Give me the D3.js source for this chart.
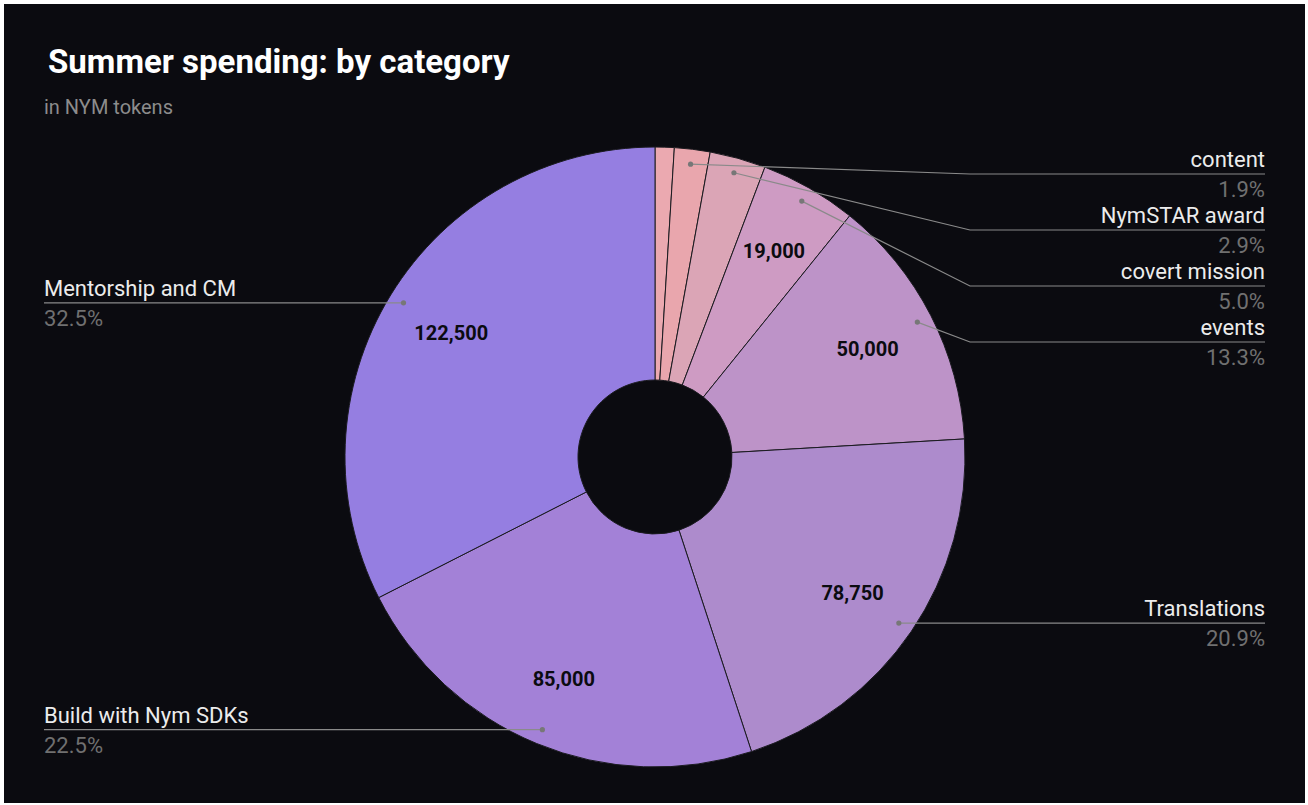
<!DOCTYPE html>
<html>
<head>
<meta charset="utf-8">
<script src="https://cdn.jsdelivr.net/npm/d3@7/dist/d3.min.js"></script>
<style>
  html, body { margin: 0; padding: 0; background: #ffffff; }
  svg { display: block; font-family: Roboto, "Noto Sans", sans-serif; }
</style>
</head>
<body>
<svg id="chart" width="1308" height="805"></svg>
<script>
// ---- data ----
const categories = ["other", "content", "NymSTAR award", "covert mission", "events", "Translations", "Build with Nym SDKs", "Mentorship and CM"];
const values = [3750, 7000, 11000, 19000, 50000, 78750, 85000, 122500];
const colors = ["#eba9b0", "#e9a6ad", "#dba5b6", "#ce9bc3", "#bd93c8", "#ad8bcc", "#a381d7", "#957ee1"];
const showLabel = [false, true, true, true, true, true, true, true];
const title = "Summer spending: by category";
const subtitle = "in NYM tokens";

// ---- layout ----
const W = 1308, H = 805;
const cx = 655, cy = 457, R = 310, r0 = 77;
const svg = d3.select("#chart");

svg.append("rect").attr("x", 4).attr("y", 4).attr("width", 1301).attr("height", 799).attr("fill", "#0b0b10");

svg.append("text").attr("x", 48).attr("y", 73).attr("fill", "#ffffff")
  .attr("font-size", 33).attr("font-weight", 700).text(title);
svg.append("text").attr("x", 44).attr("y", 114).attr("fill", "#8c8c8c")
  .attr("font-size", 20).text(subtitle);

const data = categories.map((c, i) => ({ name: c, value: values[i], color: colors[i], show: showLabel[i] }));
const total = d3.sum(values);
const pie = d3.pie().value(d => d.value).sort(null);
const arcs = pie(data);

const arc = d3.arc().innerRadius(r0).outerRadius(R);
const dotArc = d3.arc().innerRadius(295).outerRadius(295);
const valArc = d3.arc().innerRadius(239).outerRadius(239);

const g = svg.append("g").attr("transform", `translate(${cx},${cy})`);

g.selectAll("path.slice").data(arcs).join("path")
  .attr("class", "slice")
  .attr("d", arc)
  .attr("fill", d => d.data.color)
  .attr("stroke", "#1b1b20")
  .attr("stroke-width", 1);

// value labels
const fmtNum = d3.format(",");
g.selectAll("text.val").data(arcs.filter(d => d.value / total >= 0.04)).join("text")
  .attr("class", "val")
  .attr("transform", d => `translate(${valArc.centroid(d)})`)
  .attr("text-anchor", "middle")
  .attr("dy", "0.4em")
  .attr("font-size", 20)
  .attr("font-weight", 700)
  .attr("fill", "#0b0b10")
  .text(d => fmtNum(d.value));

// outside labels
const fmtPct = d3.format(".1%");
const labeled = arcs.filter(d => d.data.show).map(d => {
  const p = dotArc.centroid(d);
  return { d, px: p[0] + cx, py: p[1] + cy, right: p[0] > 0 };
});

function place(list, minY, gap) {
  list.sort((a, b) => a.py - b.py);
  let prev = -Infinity;
  list.forEach(l => {
    let y = Math.max(l.py, minY, prev + gap);
    l.ly = y;
    prev = y;
  });
}
const rightL = labeled.filter(l => l.right);
const leftL = labeled.filter(l => !l.right);
place(rightL, 174, 56);
place(leftL, 174, 56);

const labG = svg.append("g");
const rightX = 1265, leftX = 44, elbowR = 970, elbowL = 340;

labeled.forEach(l => {
  const ex = l.right ? elbowR : elbowL;
  const endX = l.right ? rightX : leftX;
  labG.append("path")
    .attr("d", `M${l.px},${l.py}L${ex},${l.ly}L${endX},${l.ly}`)
    .attr("fill", "none").attr("stroke", "#8a8a8a").attr("stroke-width", 1.2);
  labG.append("circle").attr("cx", l.px).attr("cy", l.py).attr("r", 2.6).attr("fill", "#777777");
  labG.append("text")
    .attr("x", endX).attr("y", l.ly - 7)
    .attr("text-anchor", l.right ? "end" : "start")
    .attr("font-size", 22).attr("fill", "#ececec")
    .text(l.d.data.name);
  labG.append("text")
    .attr("x", endX).attr("y", l.ly + 23)
    .attr("text-anchor", l.right ? "end" : "start")
    .attr("font-size", 22).attr("fill", "#707070")
    .text(fmtPct(l.d.value / total));
});
</script>
</body>
</html>
